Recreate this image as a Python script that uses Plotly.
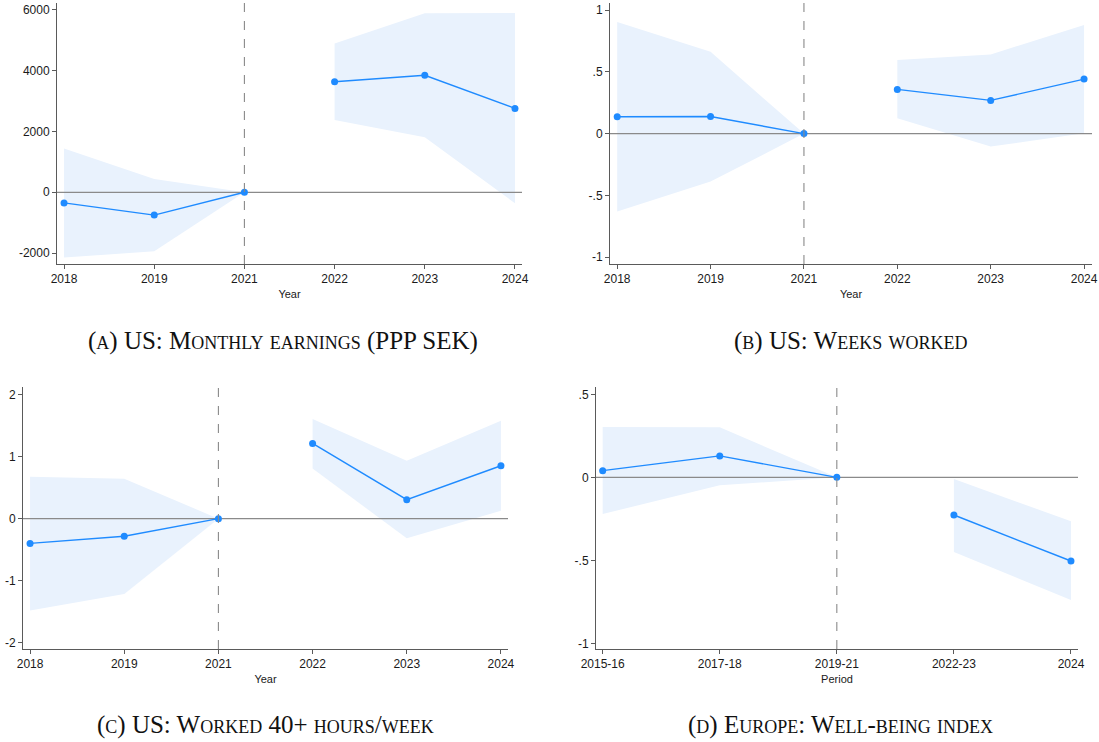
import plotly.graph_objects as go

# ---- data ---------------------------------------------------------------
years = ["2018", "2019", "2021", "2022", "2023", "2024"]
periods = ["2015-16", "2017-18", "2019-21", "2022-23", "2024"]

earn_coef = [-350, -750, 0, 3640, 3850, 2760]
earn_hi = [1440, 440, 0, 4900, 5890, 5900]
earn_lo = [-2150, -1940, 0, 2380, 1810, -360]

weeks_coef = [0.137, 0.138, 0.0, 0.358, 0.269, 0.441]
weeks_hi = [0.904, 0.662, 0.0, 0.595, 0.641, 0.878]
weeks_lo = [-0.630, -0.388, 0.0, 0.124, -0.105, 0.003]

hours_coef = [-0.40, -0.285, 0.0, 1.217, 0.307, 0.856]
hours_hi = [0.678, 0.646, 0.0, 1.61, 0.937, 1.583]
hours_lo = [-1.486, -1.217, 0.0, 0.813, -0.318, 0.129]

wb_coef = [0.040, 0.129, 0.0, -0.227, -0.504]
wb_hi = [0.303, 0.301, 0.0, -0.010, -0.265]
wb_lo = [-0.221, -0.048, 0.0, -0.450, -0.739]

# ---- styling ------------------------------------------------------------
W, H = 1099, 742
BLUE = "#1f8bff"
BAND = "rgb(233,242,253)"
GRID_GREY = "#8a8a8a"
AXIS_GREY = "#5a5a5a"
TICK_FONT = dict(family="Liberation Sans, Arial, sans-serif", size=12, color="#1a1a1a")
CAP_FONT = dict(family="Liberation Serif, DejaVu Serif, serif", size=25,
                color="#111111", variant="small-caps")

# panel boxes in pixels: (left, right, top, bottom)
panels = [
    dict(box=(57, 522, 3, 264), cats=years, coef=earn_coef, hi=earn_hi, lo=earn_lo,
         yr=[-2360, 6230], tv=[-2000, 0, 2000, 4000, 6000],
         tt=["-2000", "0", "2000", "4000", "6000"], xt="Year", base=2,
         xr=[-0.078, 5.078], cap="(a) US: Monthly earnings (PPP SEK)", capx=283, capy=341),
    dict(box=(610, 1092, 3, 264), cats=years, coef=weeks_coef, hi=weeks_hi, lo=weeks_lo,
         yr=[-1.055, 1.057], tv=[-1, -0.5, 0, 0.5, 1],
         tt=["-1", "-.5", "0", ".5", "1"], xt="Year", base=2,
         xr=[-0.077, 5.085], cap="(b) US: Weeks worked", capx=850, capy=341),
    dict(box=(23, 508, 387, 649), cats=years, coef=hours_coef, hi=hours_hi, lo=hours_lo,
         yr=[-2.107, 2.129], tv=[-2, -1, 0, 1, 2],
         tt=["-2", "-1", "0", "1", "2"], xt="Year", base=2,
         xr=[-0.075, 5.075], cap="(c) US: Worked 40+ hours/week", capx=265, capy=725),
    dict(box=(596, 1078, 387, 649), cats=periods, coef=wb_coef, hi=wb_hi, lo=wb_lo,
         yr=[-1.034, 0.544], tv=[-1, -0.5, 0, 0.5],
         tt=["-1", "-.5", "0", ".5"], xt="Period", base=2,
         xr=[-0.057, 4.06], cap="(d) Europe: Well-being index", capx=840, capy=725),
]

fig = go.Figure()
layout = dict(
    template="none",
    width=W, height=H, margin=dict(l=0, r=0, t=0, b=0, autoexpand=False),
    paper_bgcolor="white", plot_bgcolor="white", showlegend=False,
    shapes=[], annotations=[],
)

for i, p in enumerate(panels, start=1):
    xa = "x" if i == 1 else f"x{i}"
    ya = "y" if i == 1 else f"y{i}"
    left, right, top, bottom = p["box"]
    n = len(p["cats"])
    pos = list(range(n))
    base = p["base"]
    segments = [pos[: base + 1], pos[base + 1:]]

    # confidence bands, one polygon per segment
    for seg in segments:
        xs = seg + seg[::-1]
        ys = [p["hi"][k] for k in seg] + [p["lo"][k] for k in seg[::-1]]
        fig.add_trace(go.Scatter(x=xs, y=ys, fill="toself", fillcolor=BAND,
                                 line=dict(width=0), mode="lines", hoverinfo="skip",
                                 xaxis=xa, yaxis=ya))

    # zero reference line across the full axis, drawn above the bands
    fig.add_trace(go.Scatter(x=p["xr"], y=[0, 0], mode="lines", hoverinfo="skip",
                             line=dict(color=GRID_GREY, width=1.2), cliponaxis=False,
                             xaxis=xa, yaxis=ya))

    # point estimates
    for seg in segments:
        fig.add_trace(go.Scatter(x=seg, y=[p["coef"][k] for k in seg], mode="lines+markers",
                                 line=dict(color=BLUE, width=1.4),
                                 marker=dict(color=BLUE, size=7),
                                 xaxis=xa, yaxis=ya))

    axis_common = dict(showgrid=False, zeroline=False, showline=True, linecolor=AXIS_GREY,
                       linewidth=1, ticks="outside", ticklen=4, tickcolor=AXIS_GREY,
                       tickfont=TICK_FONT, fixedrange=True, automargin=False)
    layout["xaxis" if i == 1 else f"xaxis{i}"] = dict(
        axis_common, domain=[left / W, right / W], anchor=ya, range=p["xr"],
        tickmode="array", tickvals=pos, ticktext=p["cats"],
        title=dict(text=p["xt"], font=dict(TICK_FONT, size=11), standoff=4))
    layout["yaxis" if i == 1 else f"yaxis{i}"] = dict(
        axis_common, domain=[1 - bottom / H, 1 - top / H], anchor=xa, range=p["yr"],
        tickmode="array", tickvals=p["tv"], ticktext=p["tt"], tickangle=0)

    # dashed marker of the base period
    layout["shapes"].append(dict(type="line", xref=xa, x0=base, x1=base,
                                 yref=f"{ya} domain", y0=0, y1=1,
                                 line=dict(color=GRID_GREY, width=1.1, dash="dash"),
                                 layer="above"))

    layout["annotations"].append(dict(text=p["cap"], xref="paper", yref="paper",
                                      x=p["capx"] / W, y=1 - p["capy"] / H,
                                      xanchor="center", yanchor="middle",
                                      showarrow=False, font=CAP_FONT))

fig.update_layout(**layout)
fig.write_html("out.html")
